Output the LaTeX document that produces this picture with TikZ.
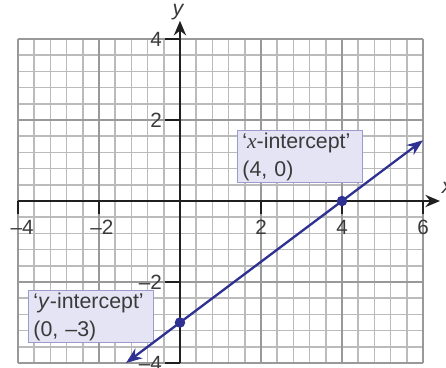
\documentclass[tikz,border=0pt]{standalone}
\usepackage{fontspec}
\setmainfont{Liberation Sans}
\newfontfamily\serifit{Liberation Serif}
\usetikzlibrary{arrows.meta}
\definecolor{minorgrid}{HTML}{BBBBBB}
\definecolor{majorgrid}{HTML}{999999}
\definecolor{lineblue}{HTML}{2E3192}
\definecolor{boxfill}{HTML}{E4E4F4}
\definecolor{boxdraw}{HTML}{9C9CCC}
\definecolor{textgray}{HTML}{3A3A3A}
\begin{document}
\begin{tikzpicture}[
  minorline/.style={draw=minorgrid, line width=1.05pt},
  majorline/.style={draw=majorgrid, line width=1.5pt},
  axisline/.style={draw=black!88, line width=2pt},
  tickline/.style={draw=black!88, line width=2pt},
  ticklab/.style={font=\fontsize{14.5}{17}\selectfont, text=textgray, inner sep=0pt},
  axislab/.style={font=\fontsize{15}{17}\selectfont\itshape, text=textgray, inner sep=0pt},
  plotline/.style={draw=lineblue, line width=1.6pt},
  dot/.style={circle, fill=lineblue, inner sep=0pt, minimum size=0.26cm},
  labelbox/.style={draw=boxdraw, fill=boxfill, line width=0.7pt, text width=2.84cm,
    minimum height=1.28cm, inner xsep=0.12cm, inner ysep=0.05cm, align=left,
    font=\fontsize{15}{19.7}\selectfont, text=textgray}
]
\useasboundingbox (-4.444,-4.099) rectangle (6.568,4.963);
% grid
\foreach \i in {0,...,25} \draw[minorline] (-4+0.4*\i,-4) -- ++(0,8);
\foreach \j in {0,...,20} \draw[minorline] (-4,-4+0.4*\j) -- ++(10,0);
\foreach \i in {0,...,5} \draw[majorline] (-4+2*\i,-4) -- ++(0,8);
\foreach \j in {0,...,4} \draw[majorline] (-4,-4+2*\j) -- ++(10,0);
% axes
\coordinate (xs) at (-4,0);
\coordinate (xe) at (6.42,0);
\coordinate (ys) at (0,-4);
\coordinate (ye) at (0,4.45);
\draw[axisline,-{Stealth[length=0.36cm,width=0.3cm]}] (xs) -- (xe);
\draw[axisline,-{Stealth[length=0.36cm,width=0.3cm]}] (ys) -- (ye);
\node[axislab] (xlab) at (6.6,0.32) {x};
\node[axislab] (ylab) at (-0.05,4.67) {y};
% ticks
\foreach \x in {-4,-2,2,4,6} \draw[tickline] (\x,0) -- (\x,-0.32);
\foreach \y in {-4,-2,2,4} \draw[tickline] (0,\y) -- (-0.37,\y);
\node[ticklab] (tx1) at (-3.9,-0.66) {–4};
\node[ticklab] (tx2) at (-1.93,-0.66) {–2};
\node[ticklab] (tx3) at (2,-0.66) {2};
\node[ticklab] (tx4) at (4,-0.66) {4};
\node[ticklab] (tx5) at (6,-0.66) {6};
\node[ticklab, anchor=east] (ty1) at (-0.44,4) {4};
\node[ticklab, anchor=east] (ty2) at (-0.44,2) {2};
\node[ticklab, anchor=east] (ty3) at (-0.44,-2) {–2};
\node[ticklab, anchor=east] (ty4) at (-0.44,-4) {–4};
% boxes
\node[labelbox, anchor=north west] (xbox) at (1.41,1.75) {\mbox{‘{\serifit\itshape x}-intercept’}\\(4, 0)};
\node[labelbox, anchor=north west] (ybox) at (-3.75,-2.2) {\mbox{‘\textit{y}-intercept’}\\(0, –3)};
% line
\coordinate (lo) at (-1.333,-4);
\coordinate (hi) at (6,1.5);
\node[dot] (yint) at (0,-3) {};
\node[dot] (xint) at (4,0) {};
\draw[plotline, {Stealth[length=0.4cm,width=0.3cm]}-{Stealth[length=0.4cm,width=0.3cm]}] (lo) -- (hi);
\end{tikzpicture}
\end{document}
